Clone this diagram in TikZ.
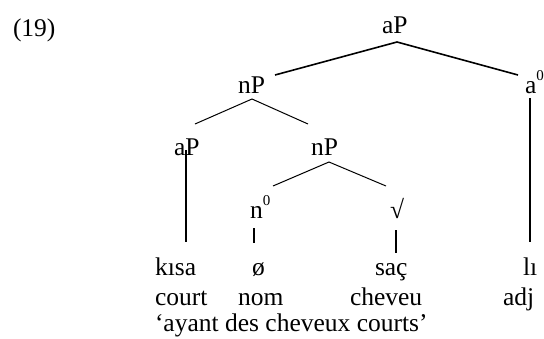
\documentclass[tikz,border=0pt]{standalone}
\usepackage{fontspec}
\setmainfont{Liberation Serif}
\usetikzlibrary{calc}
\newcommand{\supz}{\raisebox{13pt}{\fontsize{15}{15}\selectfont 0}}
\begin{document}
\begin{tikzpicture}[x=1pt,y=-1pt,
  lbl/.style={inner sep=0pt, outer sep=0pt, anchor=base west, font=\fontsize{25.5}{30}\selectfont},
  edgeA/.style={line width=1.6pt},
  edgeB/.style={line width=1pt},
  edgeC/.style={line width=1.3pt}]
\useasboundingbox (0,0) rectangle (544,338);
\node[lbl] (ex) at (13,36) {(19)};
\node[lbl] (aPtop) at (382,33) {aP};
\node[lbl] (nPa) at (238,93) {nP};
\node[lbl] (a0) at (525,93) {a\supz};
\node[lbl] (aPb) at (174,155) {aP};
\node[lbl] (nPb) at (311,155) {nP};
\node[lbl] (n0) at (250,218) {n\supz};
\node[lbl] (root) at (390,218) {√};
\node[lbl] (kisa) at (155,275) {kısa};
\node[lbl] (null) at (252,275) {ø};
\node[lbl] (sac) at (375,275) {saç};
\node[lbl] (li) at (523,275) {lı};
\node[lbl] (court) at (155,305) {court};
\node[lbl] (nom) at (238,305) {nom};
\node[lbl] (cheveu) at (350,305) {cheveu};
\node[lbl] (adj) at (503,305) {adj};
\node[lbl] (trans) at (155,331) {‘ayant des cheveux courts’};
% edges
\draw[edgeA] ($(nPa.base west)+(37,-18)$) -- ($(aPtop.base west)+(15,9)$) -- ($(a0.base west)+(-7,-18)$);
\draw[edgeA] ($(a0.base west)+(5,5)$) -- ($(li.base west)+(7,-33)$);
\draw[edgeB] ($(aPb.base west)+(21,-31)$) -- ($(nPa.base west)+(14,6)$) -- ($(nPb.base west)+(-3,-31)$);
\draw[edgeA] ($(aPb.base west)+(12,-5)$) -- ($(kisa.base west)+(31,-33)$);
\draw[edgeB] ($(n0.base west)+(23,-32)$) -- ($(nPb.base west)+(18,7)$) -- ($(root.base west)+(-4,-32)$);
\draw[edgeC] ($(n0.base west)+(4,10)$) -- ($(null.base west)+(2,-32)$);
\draw[edgeC] ($(root.base west)+(6,12)$) -- ($(sac.base west)+(21,-22)$);
\end{tikzpicture}
\end{document}
